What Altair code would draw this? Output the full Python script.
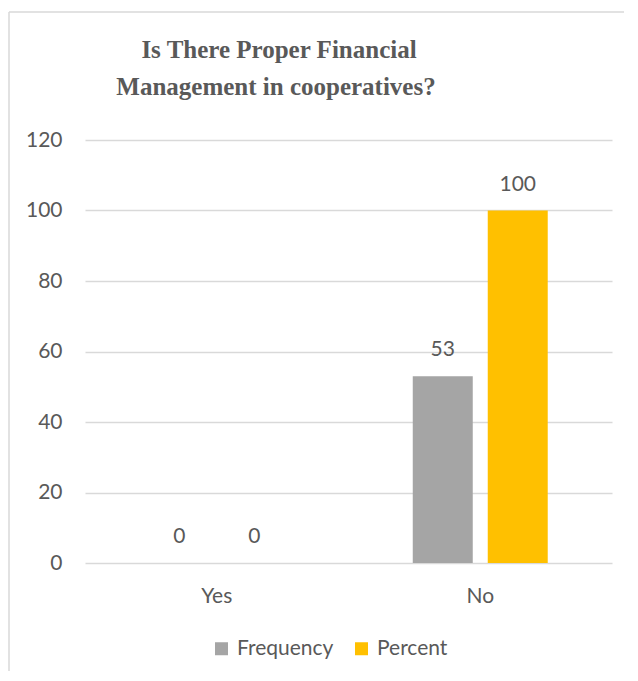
import altair as alt
import pandas as pd

categories = ["Yes", "No"]
series = ["Frequency", "Percent"]
frequency = [0, 53]
percent = [0, 100]
y_ticks = [0, 20, 40, 60, 80, 100, 120]
title_lines = ["Is There Proper Financial", "Management in cooperatives?"]
colors = ["#a5a5a5", "#ffc000"]

rows = []
for c, f, p in zip(categories, frequency, percent):
    rows.append({"Answer": c, "Series": "Frequency", "Value": f})
    rows.append({"Answer": c, "Series": "Percent", "Value": p})
df = pd.DataFrame(rows)

TXT = "#595959"
GRID = "#d9d9d9"
FONT = "Lato"
FS = 21

x_enc = alt.X("Answer:N", sort=categories, title=None,
              scale=alt.Scale(paddingInner=0, paddingOuter=0),
              axis=alt.Axis(labelAngle=0, labelFontSize=FS, labelColor=TXT, labelFont=FONT,
                            domain=False, ticks=False, grid=False, labelPadding=22))
xoff = alt.XOffset("Series:N", sort=series,
                   scale=alt.Scale(paddingInner=0.2, paddingOuter=0.857))
y_enc = alt.Y("Value:Q", title=None,
              scale=alt.Scale(domain=[0, 120], nice=False),
              axis=alt.Axis(values=y_ticks, labelFontSize=FS, labelColor=TXT, labelFont=FONT,
                            domain=False, ticks=False, labelPadding=23,
                            gridColor=GRID, gridWidth=1.5))

bars = alt.Chart(df).mark_bar().encode(
    x=x_enc, xOffset=xoff, y=y_enc,
    color=alt.Color("Series:N", sort=series, title=None,
                    scale=alt.Scale(domain=series, range=colors),
                    legend=alt.Legend(orient="none", legendX=126, legendY=498,
                                      direction="horizontal", symbolType="square",
                                      symbolSize=169, symbolStrokeWidth=0,
                                      labelFontSize=FS, labelColor=TXT, labelFont=FONT,
                                      columnPadding=17, labelOffset=5)),
)

labels = alt.Chart(df).mark_text(fontSize=FS, color=TXT, font=FONT, baseline="middle", dy=-26).encode(
    x=alt.X("Answer:N", sort=categories), xOffset=alt.XOffset("Series:N", sort=series),
    y="Value:Q", text="Value:Q",
)

blank = alt.Data(values=[{"a": 1}])
title_style = dict(font="Liberation Serif", fontSize=25, fontWeight="bold", color=TXT,
                   align="center", baseline="alphabetic")
title1 = alt.Chart(blank).mark_text(**title_style).encode(
    x=alt.value(194), y=alt.value(-82), text=alt.value(title_lines[0]))
title2 = alt.Chart(blank).mark_text(**title_style).encode(
    x=alt.value(191), y=alt.value(-45), text=alt.value(title_lines[1]))

border_top = alt.Chart(blank).mark_rule(color=GRID, strokeWidth=1.5).encode(
    x=alt.value(-76), x2=alt.value(560), y=alt.value(-128))
border_left = alt.Chart(blank).mark_rule(color=GRID, strokeWidth=1.5).encode(
    x=alt.value(-76), y=alt.value(-128), y2=alt.value(600))

chart = alt.layer(border_top, border_left, bars, labels, title1, title2).properties(
    width=527, height=423,
    background="white",
    autosize=alt.AutoSizeParams(type="none"),
    padding={"left": 77, "top": 132, "right": 12, "bottom": 108},
).configure_view(stroke=None)

chart.save("out.html", embed_options={"renderer": "svg", "actions": False})
